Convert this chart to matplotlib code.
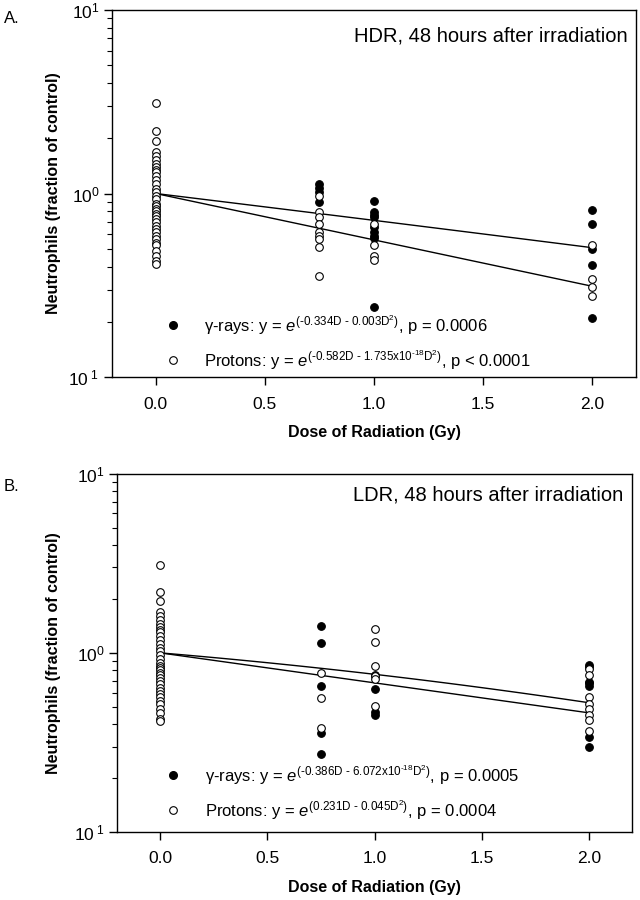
import numpy as np
import matplotlib
matplotlib.use("Agg")
import matplotlib.pyplot as plt

plt.rcParams['font.family'] = ['Liberation Sans', 'DejaVu Sans']
plt.rcParams['mathtext.fontset'] = 'custom'
plt.rcParams['mathtext.rm'] = 'Liberation Sans'
plt.rcParams['mathtext.it'] = 'Liberation Sans:italic'
plt.rcParams['mathtext.bf'] = 'Liberation Sans:bold'

# control group (same in both panels)
control = [3.10, 2.20, 1.94, 1.69, 1.60, 1.53, 1.45, 1.40, 1.35, 1.31, 1.25, 1.18,
           1.12, 1.06, 1.02, 0.975, 0.93, 0.88, 0.85, 0.826, 0.80, 0.775, 0.75,
           0.728, 0.70, 0.669, 0.64, 0.615, 0.59, 0.567, 0.54, 0.521, 0.489,
           0.459, 0.43, 0.414]

# panel A  (HDR)
a_gamma_x = [0.75, 0.75, 0.75, 0.75, 1, 1, 1, 1, 1, 1, 1, 1, 1, 2, 2, 2, 2, 2]
a_gamma_y = [1.12, 1.07, 1.02, 0.90, 0.908, 0.79, 0.768, 0.743, 0.655, 0.615, 0.59, 0.573, 0.242,
             0.815, 0.684, 0.50, 0.41, 0.21]
a_prot_x = [0.75] * 9 + [1] * 4 + [2] * 4
a_prot_y = [0.975, 0.79, 0.743, 0.684, 0.615, 0.59, 0.567, 0.514, 0.357,
            0.684, 0.527, 0.459, 0.435,
            0.527, 0.343, 0.309, 0.278]
a_fit_gamma = (-0.334, -0.003)
a_fit_prot = (-0.582, -1.735e-18)

# panel B  (LDR)
b_gamma_x = [0.75] * 5 + [1] * 4 + [2] * 7
b_gamma_y = [1.42, 1.13, 0.654, 0.359, 0.273,
             0.754, 0.627, 0.47, 0.45,
             0.857, 0.83, 0.69, 0.677, 0.654, 0.338, 0.30]
b_prot_x = [0.75] * 3 + [1] * 6 + [2] * 8
b_prot_y = [0.776, 0.558, 0.38,
            1.36, 1.15, 0.846, 0.738, 0.713, 0.508,
            0.81, 0.754, 0.57, 0.519, 0.485, 0.45, 0.42, 0.364]
b_fit_gamma = (-0.386, -6.072e-18)
b_fit_prot = (-0.231, -0.045)

ytick_vals = [0.1, 1, 10]
ytick_labels = [r"$\mathregular{10^{\ 1}}$", r"$\mathregular{10^{0}}$", r"$\mathregular{10^{1}}$"]
xtick_vals = [0.0, 0.5, 1.0, 1.5, 2.0]

fig = plt.figure(figsize=(6.4, 9), dpi=100)
axA = fig.add_axes([0.175, 0.581, 0.819, 0.408])
axB = fig.add_axes([0.183, 0.0756, 0.805, 0.398])

panels = [
    (axA, a_gamma_x, a_gamma_y, a_prot_x, a_prot_y, a_fit_gamma, a_fit_prot,
     "HDR, 48 hours after irradiation",
     r"γ-rays: y = $e^{\text{(-0.334D - 0.003D}^{2}\text{)}}$, p = 0.0006",
     r"Protons: y = $e^{\text{(-0.582D - 1.735x10}^{\text{-18}}\text{D}^{2}\text{)}}$, p < 0.0001",
     0.116, 0.176, (0.142, 0.046), 0.929, -0.098),
    (axB, b_gamma_x, b_gamma_y, b_prot_x, b_prot_y, b_fit_gamma, b_fit_prot,
     "LDR, 48 hours after irradiation",
     r"γ-rays: y = $e^{\text{(-0.386D - 6.072x10}^{\text{-18}}\text{D}^{2}\text{)}}$, p = 0.0005",
     r"Protons: y = $e^{\text{(0.231D - 0.045D}^{2}\text{)}}$, p = 0.0004",
     0.109, 0.171, (0.159, 0.061), 0.941, -0.108),
]

for (ax, gx, gy, px, py, fg, fp, title, lg, lp, mx, tx, ly, ty, ylx) in panels:
    D = np.linspace(0, 2, 50)
    ax.plot(D, np.exp(fg[0] * D + fg[1] * D ** 2), color='black', lw=1, zorder=2)
    ax.plot(D, np.exp(fp[0] * D + fp[1] * D ** 2), color='black', lw=1, zorder=2)
    ax.plot(gx, gy, 'o', ms=5.5, mfc='black', mec='black', mew=0.8, ls='none', zorder=3)
    ax.plot([0] * len(control), control, 'o', ms=5.5, mfc='white', mec='black', mew=0.8, ls='none', zorder=4)
    ax.plot(px, py, 'o', ms=5.5, mfc='white', mec='black', mew=0.8, ls='none', zorder=4)

    ax.set_yscale('log')
    ax.set_ylim(0.1, 10)
    ax.set_xlim(-0.2, 2.2)
    ax.set_xticks(xtick_vals, labels=["%.1f" % v for v in xtick_vals])
    ax.set_yticks(ytick_vals, labels=ytick_labels)
    ax.tick_params(axis='both', which='major', direction='out', length=6, width=1, labelsize=12.5, pad=8)
    ax.tick_params(axis='y', which='minor', direction='out', length=3.5, width=0.8)
    ax.tick_params(axis='y', which='major', pad=3)
    for s in ax.spines.values():
        s.set_linewidth(1)

    ax.set_xlabel("Dose of Radiation (Gy)", fontsize=11.5, fontweight='bold', labelpad=10)
    ax.set_ylabel("Neutrophils (fraction of control)", fontsize=11.5, fontweight='bold')
    ax.yaxis.set_label_coords(ylx, 0.5)

    ax.text(0.983, ty, title, transform=ax.transAxes, ha='right', va='center', fontsize=14.5)
    ax.plot([mx], [ly[0]], 'o', ms=5.5, mfc='black', mec='black', transform=ax.transAxes, clip_on=False)
    ax.plot([mx], [ly[1]], 'o', ms=5.5, mfc='white', mec='black', mew=0.8, transform=ax.transAxes, clip_on=False)
    ax.text(tx, ly[0], lg, transform=ax.transAxes, ha='left', va='center', fontsize=12)
    ax.text(tx, ly[1], lp, transform=ax.transAxes, ha='left', va='center', fontsize=12)

fig.text(0.006, 0.979, "A.", fontsize=12, ha='left', va='center')
fig.text(0.006, 0.459, "B.", fontsize=12, ha='left', va='center')

fig.savefig("out.png", dpi=100)
